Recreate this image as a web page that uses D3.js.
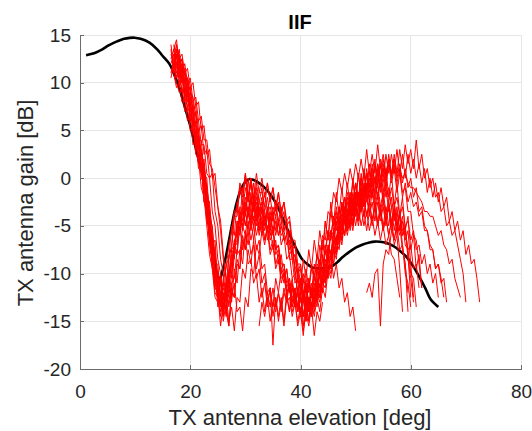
<!DOCTYPE html>
<html><head><meta charset="utf-8">
<script src="https://cdn.jsdelivr.net/npm/d3@7"></script>
<style>html,body{margin:0;padding:0;background:#fff;} svg{display:block;}</style>
</head><body>
<svg id="chart" width="532" height="431"></svg>
<script>
// ---------- data ----------
const chartTitle = "IIF";
const xLabel = "TX antenna elevation [deg]";
const yLabel = "TX antenna gain [dB]";
const xTicks = [0, 20, 40, 60, 80];
const yTicks = [-20, -15, -10, -5, 0, 5, 10, 15];

// black model pattern
const modelElev = [1.1,2,3,4.05,5,6,7,8,9,9.9,11,12.6,14,15,16.3,17,18,19,20,20.6,21.5,22.5,23.1,23.7,24.3,24.9,25.4,25.9,26.5,27.2,28,28.6,29.2,30,30.75,31.5,32.3,33.5,34.7,35.7,36.6,37.5,38.4,39.4,40.3,41.2,42.1,43,44,45,45.8,46.7,47.6,48.8,50.1,51.3,52.5,53.5,54.4,55.6,56.8,58,59.3,60.5,61.8,62.7,63.6,65];
const modelGain = [12.87,13.0,13.2,13.5,13.85,14.15,14.4,14.6,14.7,14.72,14.6,14.2,13.5,12.8,11.9,11.0,9.5,7.5,5.5,4.1,2.0,-0.1,-2.8,-5.7,-8.2,-10.2,-10.5,-9.6,-8.1,-6.0,-3.6,-2.2,-1.15,-0.4,-0.1,-0.2,-0.45,-1.0,-1.85,-2.8,-3.95,-5.2,-6.4,-7.6,-8.5,-9.0,-9.35,-9.45,-9.46,-9.35,-9.2,-8.8,-8.3,-7.75,-7.26,-6.95,-6.74,-6.65,-6.67,-6.8,-7.1,-7.6,-8.3,-9.3,-10.6,-11.6,-12.7,-13.5];

// red measured traces: first elevation of each trace, samples every 0.5 deg
const traceStart = [16.5, 17, 16.5, 17, 16.5, 17, 17.5, 16.5, 17, 17.5, 16.5, 17, 17, 32.5, 52, 16.5, 16.5, 17.5, 17, 16.5, 17];
const traceStep = 0.5;

const gainT1 = [14.0,11.5,13.0,10.0,11.5,8.5,9.5,6.0,7.5,3.5,4.5,1.0,1.5,-3.0,-3.5,-8.5,-7.5,-12.5,-10.5,-14.5,-11.0,-12.0,-8.0,-8.5,-4.5,-5.5,-2.5,-4.0,-1.5,-4.5,-2.0,-4.0,-2.5,-3.5,-1.5,-3.5,-2.0,-4.0,-2.5,-4.5,-3.0,-5.5,-4.5,-7.5,-7.0,-10.0,-9.5,-12.0,-10.5,-13.0,-11.0,-13.5,-11.0,-12.5,-10.0,-12.0,-9.0,-10.5,-7.5,-9.0,-6.0,-7.0,-4.5,-6.0,-3.5,-5.0,-2.5,-4.0,-1.5,-3.0,-0.5,-2.0,0.5,-1.0,1.5,-0.5,2.0,0.0,2.5,0.5,2.5,0.5,3.0,0.5,2.5,0.0,2.5,0.5,2.0,0.0,1.5,-0.5,1.0,-1.5,0.0,-2.0,-0.5,-2.5,-1.0,-3.0,-2.0,-4.5,-3.5,-5.5,-4.5,-6.5,-5.5,-8.0,-7.0,-9.0,-8.5,-10.5,-13.0];
const gainT2 = [13.5,12.0,12.5,10.5,11.0,8.5,9.0,6.5,7.0,4.0,4.0,0.5,0.0,-4.0,-5.0,-9.0,-9.0,-12.5,-11.0,-11.5,-8.0,-7.5,-4.0,-4.0,-1.0,-2.5,0.5,-2.0,0.0,-2.5,-0.5,-2.5,-1.0,-3.5,-2.0,-4.5,-3.0,-4.0,-2.5,-4.5,-3.5,-6.0,-5.5,-8.5,-8.0,-11.0,-10.5,-13.0,-11.5,-14.0,-12.0,-14.0,-11.5,-12.5,-10.0,-11.0,-8.0,-8.5,-6.0,-6.5,-4.0,-5.0,-3.0,-4.5,-2.0,-3.5,-1.5,-3.0,-1.0,-2.5,-0.5,-2.0,0.5,-1.5,1.0,-1.0,1.5,-0.5,2.0,0.0,2.5,0.5,3.0,1.0,3.5,1.5,3.0,1.0,4.0,1.0,2.5,0.0,1.0,-1.0,0.0,-2.0,-1.5,-3.5,-3.0,-5.0,-4.5,-6.0,-5.5,-7.0,-8.5,-10.0,-13.0];
const gainT3 = [12.5,13.5,11.0,12.0,10.0,11.0,9.0,9.5,7.0,7.5,5.0,5.5,2.5,3.0,0.0,0.5,-3.5,-5.0,-8.5,-10.0,-12.5,-11.0,-9.0,-7.0,-6.5,-3.5,-4.5,-2.0,-3.5,-1.5,-3.5,-2.0,-4.0,-3.0,-5.0,-3.5,-3.0,-4.5,-3.0,-5.0,-3.5,-5.5,-4.5,-7.0,-6.5,-9.5,-12.0,-10.5,-12.5,-11.0,-13.5,-11.5,-13.0,-11.0,-12.5,-10.0,-11.0,-8.0,-9.5,-6.5,-7.5,-5.0,-6.5,-4.0,-5.5,-3.0,-4.5,-2.0,-4.0,-1.5,-3.0,-0.5,-2.5,0.0,-2.0,0.5,-1.5,1.0,-1.0,1.5,-0.5,1.0,-1.5,0.5,-2.0,-0.5,-2.5,-1.5,-3.0,-2.5,-4.0,-3.5,-5.5,-5.5,-7.5,-7.5,-9.5,-9.0,-11.0,-10.5,-13.0];
const gainT4 = [12.0,13.5,10.5,11.5,9.0,10.0,7.0,7.5,4.5,5.0,1.5,2.0,-2.0,-2.5,-7.0,-6.5,-11.5,-10.0,-14.0,-12.5,-13.0,-11.0,-10.5,-7.5,-8.0,-5.0,-6.0,-3.5,-5.0,-3.0,-5.0,-3.5,-5.5,-4.0,-6.5,-5.0,-7.5,-6.5,-9.0,-8.0,-10.5,-9.5,-12.0,-11.0,-13.5,-12.0,-14.5,-12.5,-15.0,-13.0,-14.5,-12.5,-13.5,-11.0,-12.0,-9.5,-10.5,-8.0,-9.0,-6.5,-7.5,-5.0,-6.0,-3.5,-5.0,-2.5,-4.0,-1.5,-3.0,-1.0,-2.5,-0.5,-2.0,0.0,-2.0,0.0,-2.0,-0.5,-2.5,-1.0,-3.0,-2.0,-4.0,-3.0,-5.0,-4.5,-6.5,-5.5,-7.5,-7.0,-9.0,-8.0,-10.0,-9.0,-11.0,-10.0,-12.5];
const gainT5 = [11.0,12.5,13.0,11.0,12.0,9.0,9.5,6.5,7.0,3.5,4.0,0.5,0.0,-4.0,-5.5,-9.0,-11.5,-12.0,-13.0,-10.5,-9.5,-7.0,-5.5,-3.5,-3.0,-1.0,-2.0,0.0,-2.5,-0.5,-3.0,-1.5,-4.0,-2.5,-4.5,-3.0,-5.0,-3.5,-5.5,-4.5,-6.0,-5.5,-7.0,-6.5,-8.5,-8.0,-10.0,-9.0,-11.0,-9.5,-11.5,-9.0,-10.5,-8.0,-9.5,-7.0,-8.0,-5.5,-6.5,-4.0,-5.5,-3.0,-4.5,-2.0,-4.0,-1.5,-3.0,-0.5,-2.5,0.0,-2.0,0.5,-1.5,0.0,-2.5,-0.5,-3.0,-1.5,-3.5,-2.5,-4.5,-3.0,-5.0,-3.5,-5.5,-5.0,-8.0,-12.5];
const gainT6 = [13.0,11.5,12.0,10.0,10.5,8.0,8.0,5.5,5.5,2.5,2.5,-1.0,-1.5,-5.5,-7.0,-10.5,-12.0,-15.5,-13.0,-14.0,-10.0,-10.5,-7.0,-8.0,-5.0,-7.5,-6.0,-9.0,-8.5,-11.0,-10.0,-13.0,-11.5,-14.0,-12.0,-13.5,-11.5,-13.5,-12.0,-14.0,-12.0,-13.0,-11.0,-13.5,-12.0,-14.0,-12.5,-14.5,-12.5,-13.5,-11.0,-12.0,-9.5,-10.5,-8.0,-9.5,-7.0,-8.0,-5.5,-7.0,-4.5,-6.0,-4.0,-5.5,-3.0,-5.0,-2.5,-4.5,-2.0,-4.0,-1.5,-3.5,-1.5,-3.5,-2.0,-4.0,-2.5,-4.5,-3.0,-5.5,-3.5,-5.5,-4.0,-7.0,-9.0,-14.0];
const gainT7 = [12.5,13.0,11.0,12.0,10.0,10.5,8.0,8.5,6.0,6.5,4.0,4.0,1.5,1.0,-1.0,-3.0,-5.5,-8.5,-10.5,-13.5,-11.5,-8.0,-7.5,-4.0,-5.0,-2.5,-4.0,-2.0,-3.5,-2.5,-4.5,-3.5,-5.5,-4.0,-6.0,-5.0,-7.5,-7.0,-9.5,-9.0,-11.5,-10.5,-13.0,-11.5,-13.5,-12.0,-14.5,-12.5,-15.0,-13.0,-14.5,-12.5,-14.0,-11.5,-12.5,-9.5,-10.5,-7.5,-8.5,-5.5,-6.5,-3.5,-5.0,-2.0,-3.5,-0.5,-2.5,0.5,-1.5,1.0,-1.0,1.5,-0.5,1.0,-1.0,0.0,-2.0,-1.0,-3.0,-2.5,-4.5,-4.0,-6.0,-5.5,-7.5,-7.0,-9.5,-9.0,-11.5];
const gainT8 = [13.5,11.0,12.0,9.5,10.5,8.0,9.0,6.0,6.5,3.0,3.5,0.0,-0.5,-4.5,-5.0,-9.5,-10.0,-13.5,-12.5,-15.0,-13.0,-15.5,-11.5,-12.5,-8.5,-9.5,-6.0,-7.5,-4.5,-6.5,-5.0,-7.5,-6.5,-9.5,-9.0,-12.0,-11.5,-17.5,-12.5,-14.5,-12.5,-15.0,-12.0,-14.0,-11.0,-13.0,-10.0,-11.5,-8.5,-10.5,-7.5,-9.5,-6.5,-8.5,-5.5,-7.5,-4.5,-6.5,-3.5,-5.5,-3.0,-5.0,-2.5,-4.5,-2.0,-4.0,-1.5,-3.5,-1.5,-3.5,-2.0,-4.0,-2.5,-4.5,-3.0,-5.0,-3.5,-5.5,-4.0,-6.0,-4.5,-7.0,-6.0,-9.5,-14.0];
const gainT9 = [14.0,12.5,13.5,11.0,11.5,9.5,9.5,7.0,6.5,4.0,3.0,0.5,-1.0,-4.5,-6.5,-10.0,-11.5,-14.0,-12.5,-12.0,-8.5,-7.0,-3.5,-3.5,-0.5,-1.5,0.5,-2.0,-0.5,-2.5,-1.0,-3.5,-2.0,-4.5,-3.5,-6.0,-5.5,-8.0,-7.5,-10.0,-9.5,-12.0,-11.5,-14.0,-13.0,-15.5,-14.0,-16.5,-13.5,-15.0,-12.0,-12.5,-9.0,-9.5,-6.0,-6.5,-3.5,-4.0,-1.5,-2.5,0.0,-1.5,0.5,-1.0,1.0,-0.5,1.5,0.0,2.0,0.0,3.0,0.5,2.5,0.5,3.5,1.0,2.5,0.5,2.0,0.0,1.5,-0.5,1.0,-1.5,-1.0,-3.5,-3.5,-6.0,-6.5,-9.0,-11.5];
const gainT10 = [13.5,11.5,12.0,11.0,10.5,9.0,8.5,6.5,6.0,3.5,3.5,0.5,0.0,-3.5,-5.0,-8.5,-10.0,-12.5,-13.0,-10.0,-9.0,-6.5,-6.0,-4.0,-5.5,-3.5,-5.5,-3.0,-5.0,-3.5,-5.5,-3.0,-5.0,-3.5,-5.5,-4.0,-6.0,-4.5,-7.0,-6.0,-8.5,-8.0,-10.5,-10.0,-12.0,-11.0,-13.0,-11.5,-13.5,-12.0,-13.5,-11.5,-12.5,-10.5,-11.0,-8.5,-9.5,-7.0,-8.0,-5.5,-6.5,-4.0,-5.5,-3.0,-5.0,-2.5,-4.5,-2.0,-4.0,-2.0,-4.0,-2.5,-4.5,-2.5,-4.5,-3.0,-5.0,-2.5,-5.0,-3.0,-5.5,-3.5,-6.0,-5.0,-8.5,-10.5,-13.0];
const gainT11 = [12.0,13.0,10.5,11.5,9.0,10.0,7.5,8.0,5.0,5.0,1.5,1.5,-2.5,-3.5,-7.0,-9.0,-12.0,-12.5,-14.5,-12.0,-14.0,-15.5,-12.0,-12.5,-9.0,-9.5,-6.5,-7.5,-5.5,-8.0,-7.0,-10.5,-9.5,-12.5,-11.0,-13.5,-11.5,-13.5,-10.5,-12.0,-9.5,-11.0,-9.5,-12.0,-10.5,-13.0,-11.5,-14.5,-12.5,-15.0,-12.5,-14.5,-11.5,-13.0,-9.5,-11.0,-7.5,-9.0,-5.5,-7.0,-3.5,-5.5,-2.5,-4.0,-1.5,-3.0,-0.5,-2.5,0.5,-2.0,0.5,-1.5,0.0,-2.0,0.0,-2.0,-0.5,-2.5,-1.0,-3.5,-2.0,-4.5,-3.0,-5.5,-4.5,-7.0,-7.5,-10.0,-10.5,-13.5];
const gainT12 = [12.5,14.0,11.5,12.5,10.0,10.5,7.5,7.0,4.0,3.5,0.5,-0.5,-4.0,-6.0,-9.0,-11.0,-11.5,-13.5,-11.0,-12.5,-10.5,-12.5,-11.0,-14.0,-13.5,-16.0,-12.5,-13.5,-9.5,-10.0,-7.0,-8.0,-5.5,-7.0,-5.0,-6.5,-5.5,-7.5,-7.0,-9.0,-9.0,-11.0,-10.5,-12.5,-12.0,-14.0,-12.5,-14.5,-12.5,-14.0,-11.5,-13.0,-10.5,-12.0,-9.5,-10.5,-8.0,-9.5,-7.0,-8.0,-5.5,-7.0,-4.5,-6.0,-4.0,-5.5,-3.0,-5.0,-3.0,-5.0,-3.5,-5.5,-4.0,-6.0,-4.5,-6.5,-5.0,-7.0,-6.0,-8.0,-8.5,-10.5,-12.5];
const gainT13 = [13.0,12.0,12.5,10.0,10.5,8.0,8.5,5.5,6.0,3.0,3.0,-0.5,-1.5,-5.0,-6.5,-9.5,-11.0,-12.0,-13.5,-10.5,-11.0,-7.5,-8.0,-5.0,-6.0,-3.5,-5.0,-3.0,-4.5,-2.5,-4.5,-3.0,-5.0,-3.5,-5.5,-4.0,-6.0,-4.5,-6.0,-5.0,-6.5,-6.0,-8.0,-7.5,-9.5,-9.0,-11.0,-10.0,-12.0,-10.5,-12.5,-10.5,-12.0,-9.5,-11.0,-8.5,-10.0,-8.0,-10.5,-9.0,-11.5,-10.5,-13.0,-12.0,-14.5,-13.5,-16.0];
const gainF1 = [-15.5,-13.0,-14.5,-12.5,-15.0,-13.0,-14.0,-12.0,-13.5,-11.5,-13.0,-12.5,-14.5,-13.0,-15.0,-13.5,-16.0,-14.0,-15.5,-13.5,-16.5,-14.0,-15.0,-13.0];
const gainF2 = [-12.0,-11.0,-12.5,-10.0,-9.5,-15.5,-9.0,-7.5,-8.0,-5.5,-6.5,-4.5,-6.0];
const gainT14 = [11.5,11.0,9.5,10.0,8.0,8.5,6.0,6.5,3.5,4.0,1.0,1.5,-2.5,-2.0,-6.5,-7.0,-11.0,-10.0,-13.5,-11.0,-9.0,-8.5,-5.0,-6.0,-2.5,-4.5,-1.0,-3.5,0.0,-3.0,-0.5,-3.5,-1.5,-1.5,-3.0,-0.5,-2.5,-1.0,-3.5,-1.5,-4.0,-2.5,-5.0,-4.5,-7.5,-7.0,-10.0,-9.5,-12.0,-13.0,-10.5,-12.0,-9.0,-10.5,-7.0,-8.5,-4.5,-6.5,-2.5,-5.0,-1.5,-4.0,-1.0,-3.5,-0.5,-3.0,0.0,-2.5,0.5,-2.0,1.0,-1.5,1.5,-1.0,2.0,-1.0,1.5,-1.5,1.0,-2.0,0.5,-3.0,-0.5,-4.0,-2.0,-5.5,-4.0,-7.5,-6.0,-9.5,-8.0,-11.5];
const gainT15 = [10.5,12.0,10.0,9.0,9.5,7.0,7.5,5.0,5.5,2.5,2.0,-1.0,-2.0,-5.0,-8.0,-9.5,-12.5,-13.0,-10.5,-12.5,-14.5,-11.0,-13.0,-9.5,-11.0,-7.5,-9.0,-5.5,-7.0,-4.5,-6.5,-4.0,-6.0,-4.5,-6.5,-5.0,-7.5,-6.5,-9.0,-8.0,-10.5,-10.0,-12.0,-11.0,-13.5,-12.5,-14.0,-12.0,-15.5,-13.0,-14.0,-11.5,-13.5,-10.5,-11.5,-8.5,-10.0,-7.0,-8.5,-5.5,-7.0,-4.0,-5.5,-3.0,-4.5,-2.0,-4.0,-1.5,-3.0,-1.0,-3.0,-0.5,-2.5,-1.0,-3.0,-1.5,-3.5,-2.0,-4.0,-3.0,-5.0,-3.5,-6.0,-5.0,-7.5,-9.0,-12.0];
const gainT16 = [14.0,12.5,13.0,11.0,11.5,9.5,10.0,7.5,8.0,5.0,5.5,2.5,3.0,0.0,0.5,-3.0,-4.5,-8.0,-10.5,-12.5,-10.0,-7.0,-5.5,-3.0,-3.5,-1.0,-2.5,0.0,-2.0,0.5,-1.5,0.0,-2.0,-0.5,-2.5,-1.0,-3.0,-1.5,-3.5,-2.5,-4.5,-4.0,-6.5,-6.5,-9.0,-9.0,-12.0,-11.0,-13.0,-12.0,-13.5,-12.0,-13.0,-11.0,-11.5,-9.0,-10.0,-7.5,-8.0,-5.5,-6.5,-4.0,-5.0,-2.5,-4.0,-1.5,-3.0,-0.5,-2.0,0.5,-1.5,1.0,-0.5,1.5,0.0,2.0,0.0,2.5,0.5,2.0,0.0,1.5,-0.5,1.0,-1.0,0.0,-2.0,-1.0,-3.5,-3.0,-5.0,-5.5,-7.0,-7.5,-9.5,-9.0,-10.5,-12.5];
const gainT17 = [12.0,10.5,11.0,9.0,9.5,7.0,7.5,4.5,5.0,2.0,1.5,-2.0,-3.0,-6.5,-8.5,-11.0,-12.5,-10.5,-13.5,-12.0,-15.0,-13.5,-16.0,-12.5,-13.0,-9.5,-10.5,-7.5,-9.0,-6.5,-9.5,-8.0,-11.0,-10.0,-13.0,-11.5,-14.5,-12.5,-15.0,-13.0,-15.5,-12.5,-14.0,-11.5,-13.5,-12.0,-14.0,-12.0,-13.5,-11.0,-12.5,-10.0,-11.5,-8.5,-10.0,-7.0,-8.5,-5.5,-7.5,-4.5,-6.5,-4.0,-6.0,-3.5,-5.5,-3.0,-5.0,-3.0,-5.0,-3.5,-5.5,-3.5,-5.0,-3.0,-5.0,-3.5,-5.5,-4.0,-6.0,-4.5,-6.5,-5.0,-7.5,-7.0,-10.0,-11.0,-13.5];
const gainT18 = [13.0,12.0,13.0,10.5,11.5,8.5,9.5,6.5,7.0,4.0,4.5,1.0,1.5,-2.5,-4.0,-7.5,-9.5,-12.0,-11.0,-14.0,-11.5,-10.0,-7.5,-7.0,-4.5,-5.5,-3.0,-5.0,-3.5,-5.5,-4.0,-6.0,-4.5,-6.0,-4.0,-5.5,-3.5,-5.5,-4.0,-6.0,-4.5,-6.5,-6.0,-8.5,-8.5,-11.0,-10.5,-13.0,-12.0,-14.0,-12.5,-13.5,-11.5,-12.0,-9.5,-10.0,-7.5,-8.0,-5.5,-6.0,-4.0,-5.0,-3.0,-4.5,-2.5,-4.0,-2.0,-3.5,-2.0,-3.5,-2.0,-4.0,-2.5,-4.5,-2.5,-4.5,-3.0,-5.0,-3.0,-5.0,-3.0,-5.5,-3.5,-5.5,-4.0,-6.5,-5.5,-9.0,-12.5];
const gainT19 = [13.5,14.5,12.0,12.5,10.0,10.5,8.0,8.0,5.5,5.0,2.5,1.5,-1.0,-3.0,-5.5,-8.0,-10.0,-12.5,-11.5,-13.0,-9.5,-10.0,-6.5,-7.0,-4.0,-5.0,-2.5,-4.0,-2.0,-4.5,-3.0,-5.5,-4.0,-6.5,-5.5,-8.0,-7.0,-9.5,-8.5,-11.0,-10.0,-12.5,-11.0,-13.0,-11.5,-13.5,-11.5,-13.0,-10.5,-12.0,-9.5,-10.5,-8.0,-9.0,-6.5,-7.5,-5.5,-6.0,-4.0,-5.0,-3.0,-4.0,-2.0,-3.5,-1.5,-2.5,-0.5,-2.0,0.0,-1.5,0.5,-1.0,1.0,-0.5,1.5,0.0,1.0,0.0,1.5,0.5,2.0,0.5,1.0,0.0,0.5,-0.5,-1.0,-1.0,-1.5,-2.0,-2.5,-3.5,-3.5,-4.0,-4.0,-5.0,-6.0,-5.5,-7.0,-7.5,-9.0,-8.5,-10.5,-11.5,-12.5];

const measuredGain = [gainT1,gainT2,gainT3,gainT4,gainT5,gainT6,gainT7,gainT8,gainT9,gainT10,gainT11,gainT12,gainT13,gainF1,gainF2,gainT14,gainT15,gainT16,gainT17,gainT18,gainT19];

// ---------- drawing ----------
const svg = d3.select("#chart");
const FONT = "'Liberation Sans', Arial, Helvetica, sans-serif";
const L = 80, R = 521, T = 35, B = 369;
const x = d3.scaleLinear().domain([0, 80]).range([L, R]);
const y = d3.scaleLinear().domain([-20, 15]).range([B, T]);

svg.append("rect").attr("width", 532).attr("height", 431).attr("fill", "#fff");

// grid
const grid = svg.append("g").attr("shape-rendering", "crispEdges");
grid.selectAll(".gx").data(xTicks.filter(d => d !== 0)).join("line")
  .attr("x1", d => x(d)).attr("x2", d => x(d)).attr("y1", T).attr("y2", B)
  .attr("stroke", "#e6e6e6").attr("stroke-width", 1);
grid.selectAll(".gy").data(yTicks.filter(d => d !== -20)).join("line")
  .attr("x1", L).attr("x2", R).attr("y1", d => y(d)).attr("y2", d => y(d))
  .attr("stroke", "#e6e6e6").attr("stroke-width", 1);

svg.append("clipPath").attr("id", "clip").append("rect")
  .attr("x", L).attr("y", T).attr("width", R - L).attr("height", B - T);

const plot = svg.append("g").attr("clip-path", "url(#clip)");

// model (black)
const modelData = modelElev.map((e, i) => [e, modelGain[i]]);
plot.append("path").datum(modelData)
  .attr("fill", "none").attr("stroke", "#000").attr("stroke-width", 2.6)
  .attr("stroke-linejoin", "round").attr("stroke-linecap", "butt")
  .attr("d", d3.line().x(d => x(d[0])).y(d => y(d[1])).curve(d3.curveCatmullRom));

// measurements (red)
const redLine = d3.line().x(d => x(d[0])).y(d => y(d[1]));
measuredGain.forEach((g, k) => {
  const pts = g.map((v, i) => [traceStart[k] + i * traceStep, v]);
  plot.append("path").datum(pts)
    .attr("fill", "none").attr("stroke", "#ff0000").attr("stroke-width", 1.0)
    .attr("stroke-linejoin", "miter").attr("d", redLine);
});

// axes
const fmt = d => String(d);
const ax = svg.append("g").attr("transform", `translate(0,${B})`)
  .call(d3.axisBottom(x).tickValues(xTicks).tickFormat(fmt).tickSize(-4).tickSizeOuter(0).tickPadding(16));
const ay = svg.append("g").attr("transform", `translate(${L},0)`)
  .call(d3.axisLeft(y).tickValues(yTicks).tickFormat(fmt).tickSize(-4).tickSizeOuter(0).tickPadding(9));
[ax, ay].forEach(a => {
  a.select(".domain").attr("stroke", "#6b6b6b").attr("shape-rendering", "crispEdges");
  a.selectAll(".tick line").attr("stroke", "#6b6b6b").attr("shape-rendering", "crispEdges");
  a.selectAll(".tick text").attr("font-family", FONT).attr("font-size", 19).attr("fill", "#262626");
});

// labels
svg.append("text").attr("x", 300).attr("y", 29).attr("text-anchor", "middle")
  .attr("font-family", FONT).attr("font-size", 20).attr("font-weight", "bold").attr("fill", "#000")
  .text(chartTitle);
svg.append("text").attr("x", 300).attr("y", 425).attr("text-anchor", "middle")
  .attr("font-family", FONT).attr("font-size", 22).attr("fill", "#262626")
  .text(xLabel);
svg.append("text").attr("transform", "translate(33,203) rotate(-90)").attr("text-anchor", "middle")
  .attr("font-family", FONT).attr("font-size", 22).attr("fill", "#262626")
  .text(yLabel);
</script>
</body></html>
